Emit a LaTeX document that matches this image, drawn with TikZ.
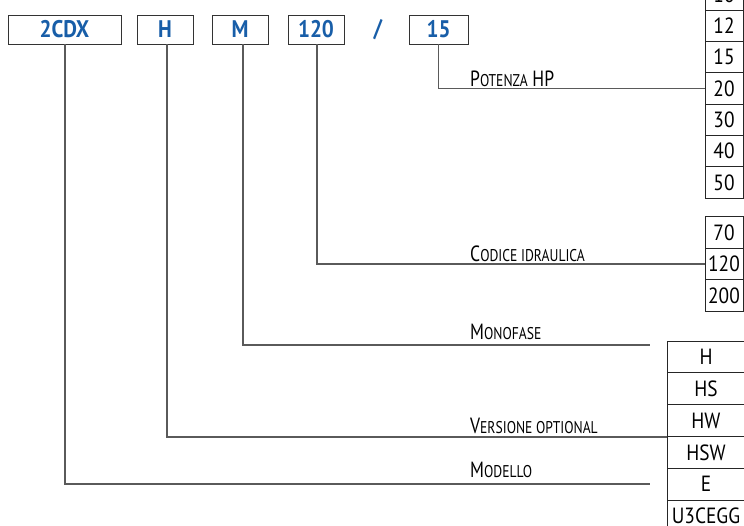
\documentclass[tikz,border=0pt]{standalone}
\usepackage{fontspec}
\setmainfont[FakeStretch=0.88]{PT Sans}
\newfontfamily\labelfont[FakeStretch=0.8]{PT Sans}
\usetikzlibrary{positioning}
\definecolor{codeblue}{RGB}{24,94,168}
\definecolor{linegray}{RGB}{90,90,90}
\tikzstyle{code}=[draw=black!80, line width=0.9pt, minimum height=29pt, inner sep=0pt, text=codeblue, font=\fontsize{24}{24}\selectfont\bfseries]
\tikzstyle{cell}=[draw=black!85, line width=0.9pt, minimum width=38pt, minimum height=31.4pt, inner sep=0pt, font=\fontsize{22}{22}\selectfont]
\tikzstyle{wide}=[cell, minimum width=78pt, minimum height=31.8pt]
\tikzstyle{link}=[draw=linegray, line width=1.3pt]
\tikzstyle{lbl}=[anchor=base west, inner sep=0pt, font=\labelfont\fontsize{22}{22}\selectfont]
\newcommand{\fakesc}[2]{#1{\fontsize{17}{17}\selectfont #2}}

\begin{document}
\begin{tikzpicture}[x=1pt, y=-1pt]
    \useasboundingbox (0,0) rectangle (744,526);
    \clip (0,0) rectangle (744,526);

    % code boxes
    \node[code, minimum width=113pt] (cdx) at (64.5,29.5) {2CDX};
    \node[code, minimum width=56pt] (kh) at (165,29.5) {H};
    \node[code, minimum width=56pt] (km) at (240,29.5) {M};
    \node[code, minimum width=56pt] (k120) at (316,29.5) {120};
    \node[text=codeblue, font=\fontsize{24}{24}\selectfont\bfseries] (slash) at (378,29.5) {/};
    \node[code, minimum width=59pt] (k15) at (438.5,29.5) {15};

    % value columns
    \foreach \v [count=\i from 0] in {10,12,15,20,30,40,50}
      \node[cell] (p\v) at (724,{-5.6+31.35*\i}) {\v};
    \foreach \v [count=\i from 0] in {70,120,200}
      \node[cell] (c\v) at (724,{232.5+31.5*\i}) {\v};
    \foreach \v [count=\i from 0] in {H,HS,HW,HSW,E,U3CEGG}
      \node[wide] (v\v) at (706,{357+31.8*\i}) {\v};

    \coordinate (monoend) at (650,345);
    \coordinate (modend) at (650,484);

    % links
    \draw[link] (k15.south) |- (p20.west);
    \draw[link] ([xshift=1pt]k120.south) |- (c120.west);
    \draw[link] ([xshift=3pt]km.south) |- (monoend);
    \draw[link] ([xshift=2pt]kh.south) |- (vHW.south west);
    \draw[link] ([xshift=0.5pt]cdx.south) |- (modend);

    % labels
    \node[lbl] (potenza) at (470,87) {\fakesc{P}{OTENZA} HP};
    \node[lbl] (codice) at (470,262) {\fakesc{C}{ODICE IDRAULICA}};
    \node[lbl] (mono) at (470,340) {\fakesc{M}{ONOFASE}};
    \node[lbl] (versione) at (470,433) {\fakesc{V}{ERSIONE OPTIONAL}};
    \node[lbl] (modello) at (470,477) {\fakesc{M}{ODELLO}};
\end{tikzpicture}
\end{document}
